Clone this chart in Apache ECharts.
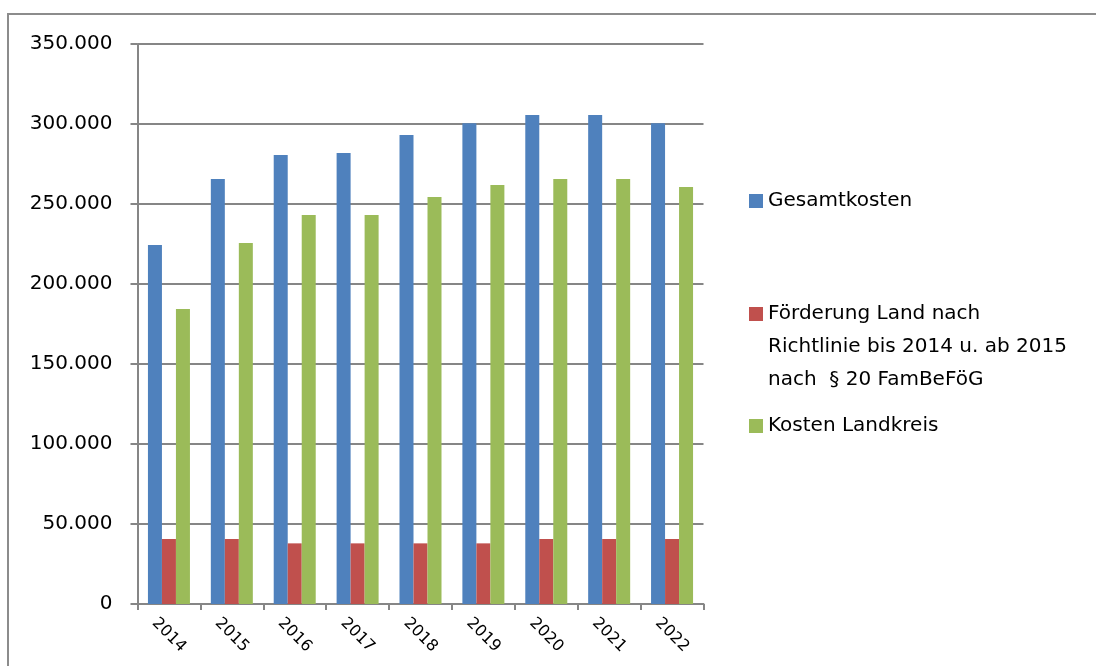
<!DOCTYPE html>
<html>
<head>
<meta charset="utf-8">
<script src="https://cdn.jsdelivr.net/npm/echarts@6/dist/echarts.min.js"></script>
<style>
html,body{margin:0;padding:0;background:#fff;}
#c{width:1096px;height:666px;}
</style>
</head>
<body>
<div id="c"></div>
<script>
const categories = ['2014','2015','2016','2017','2018','2019','2020','2021','2022'];
const seriesNames = ['Gesamtkosten', 'Förderung Land nach\nRichtlinie bis 2014 u. ab 2015\nnach  § 20 FamBeFöG', 'Kosten Landkreis'];
const gesamtkosten = [224400, 265600, 280600, 281900, 293100, 300400, 305600, 305600, 300400];
const foerderung = [40600, 40600, 37900, 37900, 37900, 37900, 40600, 40600, 40600];
const kostenLandkreis = [184400, 225600, 243100, 243100, 254400, 261900, 265600, 265600, 260600];
const yTicks = [0, 50000, 100000, 150000, 200000, 250000, 300000, 350000];
const colors = ['#4F81BD', '#C0504D', '#9BBB59'];

const FONT = 'DejaVu Sans';
const chart = echarts.init(document.getElementById('c'));

function fmt(v){
  return String(v).replace(/\B(?=(\d{3})+(?!\d))/g, '.');
}

const legendBase = {
  orient: 'vertical', left: 749, itemWidth: 14, itemHeight: 14,
  icon: 'rect', selectedMode: false, padding: 0,
  textStyle: { fontFamily: FONT, fontSize: 20, color: '#000', lineHeight: 33 }
};

const option = {
  animation: false,
  backgroundColor: '#fff',
  color: colors,
  graphic: [{
    type: 'rect', shape: { x: 8, y: 14, width: 1200, height: 800 },
    style: { fill: 'none', stroke: '#8c8c8c', lineWidth: 2 }, silent: true, z: -10
  }],
  legend: [
    Object.assign({}, legendBase, { top: 184.5, data: [seriesNames[0]] }),
    Object.assign({}, legendBase, { top: 231.5, data: [seriesNames[1]],
      formatter: function(name){ return ' \n \n' + name; } }),
    Object.assign({}, legendBase, { top: 409.5, data: [seriesNames[2]] })
  ],
  grid: { left: 137.5, right: 392.5, top: 44, bottom: 62, containLabel: false },
  xAxis: {
    type: 'category', data: categories,
    axisLine: { lineStyle: { color: '#868686', width: 2 } },
    axisTick: { show: true, length: 6, lineStyle: { color: '#868686', width: 2 } },
    axisLabel: { rotate: -45, align: 'center', verticalAlign: 'middle', margin: 31,
      fontFamily: FONT, fontSize: 16, color: '#000' }
  },
  yAxis: {
    type: 'value', min: 0, max: 350000, interval: 50000,
    axisLine: { show: true, lineStyle: { color: '#868686', width: 2 } },
    axisTick: { show: true, length: 7, lineStyle: { color: '#868686', width: 2 } },
    splitLine: { show: true, lineStyle: { color: '#868686', width: 2 } },
    axisLabel: { margin: 25, fontFamily: FONT, fontSize: 20, color: '#000',
      formatter: function(v){ return yTicks.indexOf(v) >= 0 ? fmt(v) : ''; } }
  },
  series: [
    { name: seriesNames[0], type: 'bar', data: gesamtkosten, barWidth: 14, barGap: '0%' },
    { name: seriesNames[1], type: 'bar', data: foerderung, barWidth: 14, barGap: '0%' },
    { name: seriesNames[2], type: 'bar', data: kostenLandkreis, barWidth: 14, barGap: '0%' }
  ]
};
chart.setOption(option);
</script>
</body>
</html>
